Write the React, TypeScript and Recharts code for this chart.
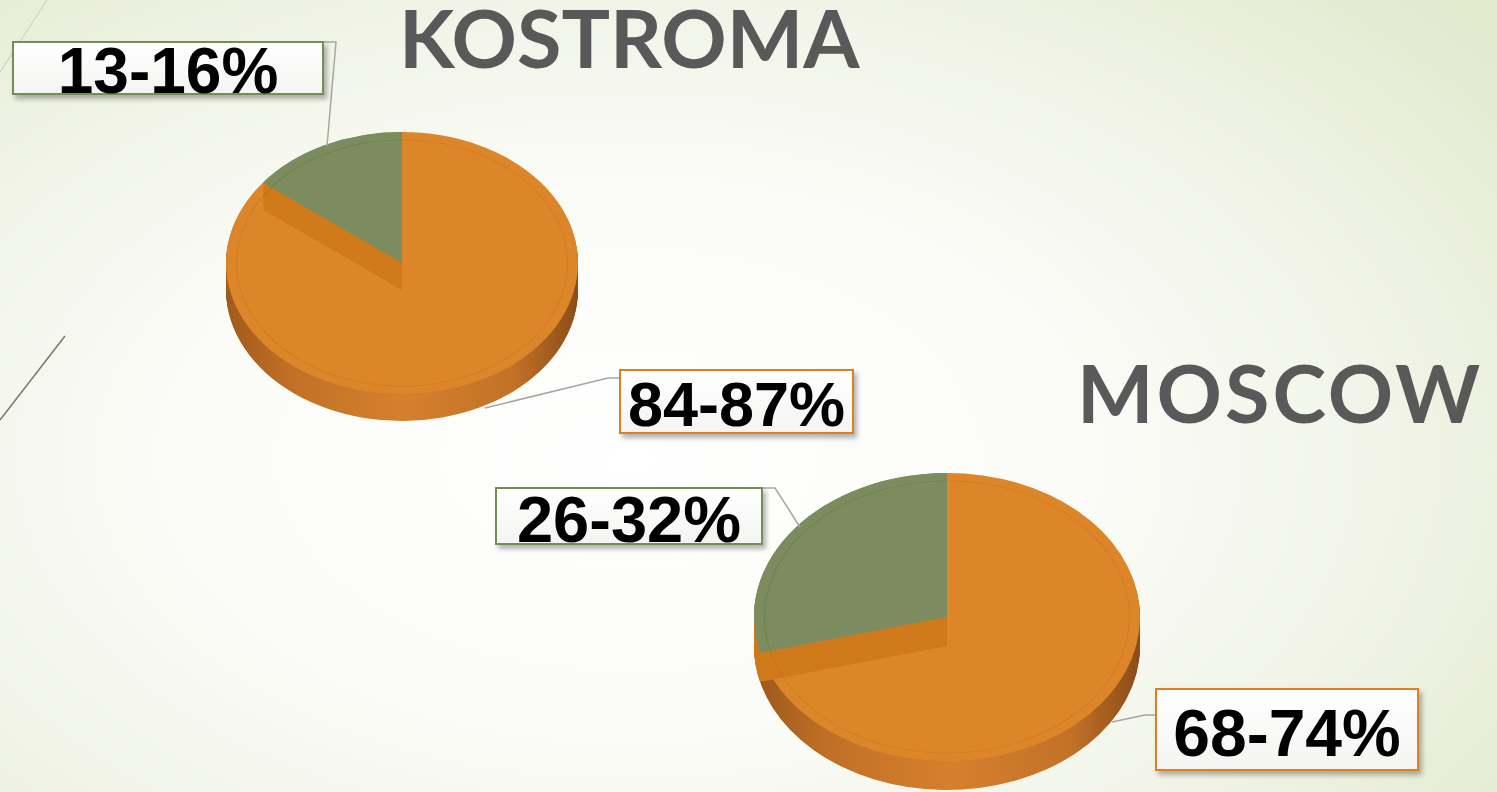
import { PieChart, Pie, Cell } from 'recharts';

// slices: [larger share, smaller share]; values are the midpoints of the printed ranges
const SLICES = ['Majority', 'Minority'];
const KOSTROMA_VALUES = [85.5, 14.5];
const MOSCOW_VALUES = [71, 29];
const KOSTROMA_LABELS = ['84-87%', '13-16%'];
const MOSCOW_LABELS = ['68-74%', '26-32%'];
const CITIES = ['KOSTROMA', 'MOSCOW'];

const ORANGE = '#dd8629';
const GREEN = '#7c8c5e';
const BAND = '#d07a1c';
const SIDE_GREEN = '#63703f';

const toRows = (values: number[]) => SLICES.map((name, i) => ({ name, value: values[i] }));

interface Pie3DProps {
  id: string;
  values: number[];
  cx: number;
  cy: number;
  rx: number;
  ry: number;
  depth: number;
}

function Pie3D({ id, values, cx, cy, rx, ry, depth }: Pie3DProps) {
  const data = toRows(values);
  const scale = ry / rx;
  const pad = 4;
  const size = 2 * (rx + pad);
  const depthU = depth / scale;
  const steps = Math.ceil(depthU / 1.5);
  const layers = Array.from({ length: steps }, (_, i) => (depthU * (steps - i)) / steps);
  const c = rx + pad;

  const common = {
    data,
    dataKey: 'value',
    cx: c,
    outerRadius: rx,
    startAngle: 90,
    endAngle: -270,
    stroke: 'none',
    isAnimationActive: false
  };

  return (
    <div
      style={{
        position: 'absolute',
        left: cx - c,
        top: cy - c * scale,
        width: size,
        height: size + depthU,
        transform: `scaleY(${scale})`,
        transformOrigin: 'top left'
      }}
    >
      <PieChart width={size} height={size + depthU} margin={{ top: 0, right: 0, bottom: 0, left: 0 }}>
        <defs>
          <linearGradient id={`side-${id}`} x1="0" y1="0" x2="1" y2="0">
            <stop offset="0%" stopColor="#9f5a1c" />
            <stop offset="18%" stopColor="#c07026" />
            <stop offset="50%" stopColor="#d5802d" />
            <stop offset="82%" stopColor="#c27126" />
            <stop offset="100%" stopColor="#8a4d18" />
          </linearGradient>
        </defs>
        {/* side wall */}
        {layers.map((off, k) => (
          <Pie key={`side-${k}`} {...common} cy={c + off}>
            <Cell fill={`url(#side-${id})`} />
            <Cell fill={SIDE_GREEN} />
          </Pie>
        ))}
        {/* top face */}
        <Pie key="top" {...common} cy={c}>
          <Cell fill={ORANGE} />
          <Cell fill={GREEN} />
        </Pie>
        {/* inner cut wall of the large slice */}
        {layers.map((off, k) => (
          <Pie key={`band-${k}`} {...common} cy={c + off}>
            <Cell fill="none" />
            <Cell fill={BAND} />
          </Pie>
        ))}
        <Pie key="top-small" {...common} cy={c}>
          <Cell fill="none" />
          <Cell fill={GREEN} />
        </Pie>
        {/* bevel rim */}
        <Pie key="rim" {...common} cy={c} innerRadius={rx - 11} outerRadius={rx - 10}>
          <Cell fill="rgba(150,75,0,0.16)" />
          <Cell fill="rgba(60,80,30,0.18)" />
        </Pie>
      </PieChart>
    </div>
  );
}

interface LabelBoxProps {
  text: string;
  left: number;
  top: number;
  width: number;
  height: number;
  border: string;
  fontSize: number;
}

function LabelBox({ text, left, top, width, height, border, fontSize }: LabelBoxProps) {
  return (
    <div
      style={{
        position: 'absolute',
        left,
        top,
        width,
        height,
        boxSizing: 'border-box',
        border: `2px solid ${border}`,
        background: 'linear-gradient(180deg, #ffffff 0%, #f4f4f2 100%)',
        boxShadow: '3px 4px 5px rgba(0,0,0,0.3)',
        display: 'flex',
        alignItems: 'center',
        justifyContent: 'center',
        fontFamily: '"Liberation Sans", Arial, sans-serif',
        fontWeight: 700,
        fontSize,
        lineHeight: 1,
        color: '#000',
        overflow: 'visible',
        whiteSpace: 'nowrap'
      }}
    >
      <span style={{ position: 'relative', top: 3 }}>{text}</span>
    </div>
  );
}

const titleStyle = {
  position: 'absolute' as const,
  fontFamily: 'Lato, "Noto Sans", sans-serif',
  fontWeight: 700,
  fontSize: 81,
  lineHeight: '70px',
  color: '#595959',
  whiteSpace: 'nowrap' as const
};

export default function App() {
  return (
    <div
      style={{
        position: 'absolute',
        left: 0,
        top: 0,
        width: 1497,
        height: 792,
        overflow: 'hidden',
        background:
          'radial-gradient(ellipse 75% 85% at 42% 58%, #ffffff 0%, #fbfcf8 40%, #eef2e2 75%, #e2e9cd 100%)'
      }}
    >
      <svg width={1497} height={792} style={{ position: 'absolute', left: 0, top: 0 }}>
        <line x1={0} y1={72} x2={47} y2={0} stroke="#c9ccbc" strokeWidth={1} />
        <line x1={0} y1={420} x2={65} y2={336} stroke="#7d7860" strokeWidth={1.5} />
      </svg>

      <Pie3D id="kos" values={KOSTROMA_VALUES} cx={402} cy={263} rx={176} ry={131} depth={27} />
      <Pie3D id="msk" values={MOSCOW_VALUES} cx={947} cy={617} rx={193} ry={144} depth={29} />

      <svg width={1497} height={792} style={{ position: 'absolute', left: 0, top: 0 }}>
        <g fill="none" stroke="#a6a6a6" strokeWidth={1.5}>
          <polyline points="323,42 336,42 327,146" />
          <polyline points="485,408 608,378 619,378" />
          <polyline points="762,488 775,488 800,527" />
          <polyline points="1112,722 1145,715 1155,715" />
        </g>
      </svg>

      <LabelBox text={KOSTROMA_LABELS[1]} left={12} top={41} width={312} height={54} border="#768d56" fontSize={64} />
      <LabelBox text={KOSTROMA_LABELS[0]} left={619} top={369} width={235} height={65} border="#e07f1f" fontSize={63} />
      <LabelBox text={MOSCOW_LABELS[1]} left={495} top={487} width={268} height={58} border="#768d56" fontSize={65} />
      <LabelBox text={MOSCOW_LABELS[0]} left={1155} top={688} width={264} height={83} border="#e07f1f" fontSize={66} />

      <div style={{ ...titleStyle, left: 399, top: 2 }}>{CITIES[0]}</div>
      <div style={{ ...titleStyle, left: 1077, top: 357, letterSpacing: 3 }}>{CITIES[1]}</div>
    </div>
  );
}
